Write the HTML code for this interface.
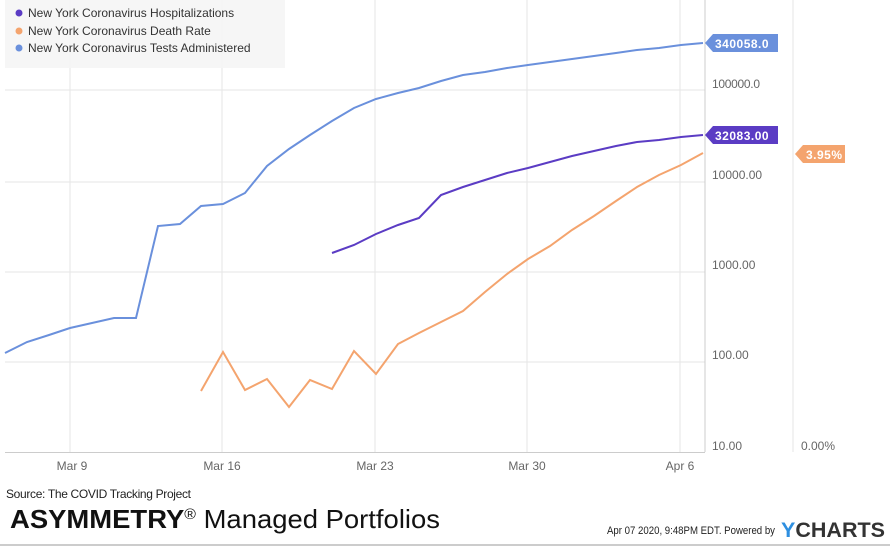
<!DOCTYPE html>
<html><head><meta charset="utf-8"><style>
body{margin:0;width:890px;height:548px;background:#fff;overflow:hidden;font-family:"Liberation Sans",sans-serif}
</style></head><body>
<svg width="890" height="548" xmlns="http://www.w3.org/2000/svg" font-family="Liberation Sans, sans-serif">
<g stroke="#e6e6e6" stroke-width="1">
<line x1="5" y1="90" x2="705" y2="90"/><line x1="5" y1="182" x2="705" y2="182"/>
<line x1="5" y1="272" x2="705" y2="272"/><line x1="5" y1="362" x2="705" y2="362"/>
<line x1="70" y1="0" x2="70" y2="452"/><line x1="222" y1="0" x2="222" y2="452"/>
<line x1="375" y1="0" x2="375" y2="452"/><line x1="527" y1="0" x2="527" y2="452"/>
<line x1="680" y1="0" x2="680" y2="452"/>
<line x1="793" y1="0" x2="793" y2="452"/>
</g>
<line x1="705" y1="0" x2="705" y2="452" stroke="#ccc"/>
<line x1="5" y1="452.5" x2="705" y2="452.5" stroke="#ccc"/>
<rect x="5" y="0" width="280" height="68" fill="#f5f5f5" opacity="0.9"/>
<g font-size="12" fill="#333">
<circle cx="19" cy="13" r="3.5" fill="#5b3cc4"/><text x="28" y="17">New York Coronavirus Hospitalizations</text>
<circle cx="19" cy="31" r="3.5" fill="#f4a46e"/><text x="28" y="35">New York Coronavirus Death Rate</text>
<circle cx="19" cy="48" r="3.5" fill="#6a90dc"/><text x="28" y="52">New York Coronavirus Tests Administered</text>
</g>
<polyline fill="none" stroke="#6a90dc" stroke-width="2" points="5,353 27,342 49,335 70,328 92,323 114,318 136,318 158,226 180,224 201,206 223,204 245,193 267,166 289,149 310,135 332,121 354,108 376,99 398,93 419,88 441,81 463,75 485,72 507,68 528,65 550,62 572,59 594,56 616,53 637,50 659,48 681,45 703,43"/>
<polyline fill="none" stroke="#5b3cc4" stroke-width="2" points="332,253 354,245 376,234 398,225 419,218 441,195 463,187 485,180 507,173 528,168 550,162 572,156 594,151 616,146 637,142 659,140 681,137 703,135"/>
<polyline fill="none" stroke="#f4a46e" stroke-width="2" points="201,391 223,352 245,390 267,379 289,407 310,380 332,389 354,351 376,374 398,344 419,333 441,322 463,311 485,292 507,274 528,259 550,246 572,230 594,216 616,201 637,187 659,175 681,165 703,153"/>
<g font-size="12" fill="#666">
<text x="712" y="88" textLength="48">100000.0</text><text x="712" y="179">10000.00</text>
<text x="712" y="269">1000.00</text><text x="712" y="359">100.00</text><text x="712" y="450">10.00</text>
<text x="801" y="450">0.00%</text>
<g text-anchor="middle"><text x="72" y="470">Mar 9</text><text x="222" y="470">Mar 16</text><text x="375" y="470">Mar 23</text><text x="527" y="470">Mar 30</text><text x="680" y="470">Apr 6</text></g>
</g>
<g font-size="12" font-weight="bold" fill="#fff">
<path d="M705,43 L713,34 L778,34 L778,52 L713,52 Z" fill="#6a90dc"/><text x="715" y="48" letter-spacing="0.5">340058.0</text>
<path d="M705,135 L713,126 L778,126 L778,144 L713,144 Z" fill="#5b3cc4"/><text x="715" y="140" letter-spacing="0.5">32083.00</text>
<path d="M795,154 L803,145 L845,145 L845,163 L803,163 Z" fill="#f4a46e"/><text x="806" y="159" letter-spacing="0.5">3.95%</text>
</g>
<text x="6" y="498" font-size="12" fill="#222" textLength="185">Source: The COVID Tracking Project</text>
<text x="10" y="528" font-size="26" fill="#111" textLength="430" lengthAdjust="spacingAndGlyphs"><tspan font-weight="bold">ASYMMETRY</tspan><tspan font-size="15" dy="-9">®</tspan><tspan dy="9"> Managed Portfolios</tspan></text>
<text x="607" y="534" font-size="11" fill="#222" textLength="168" lengthAdjust="spacingAndGlyphs">Apr 07 2020, 9:48PM EDT.  Powered by</text>
<text x="781" y="537" font-size="21" font-weight="bold" fill="#333" textLength="104" lengthAdjust="spacingAndGlyphs"><tspan fill="#2e8fe0">Y</tspan>CHARTS</text>
<line x1="0" y1="545" x2="890" y2="545" stroke="#ccc" stroke-width="2"/>
</svg>
</body></html>
